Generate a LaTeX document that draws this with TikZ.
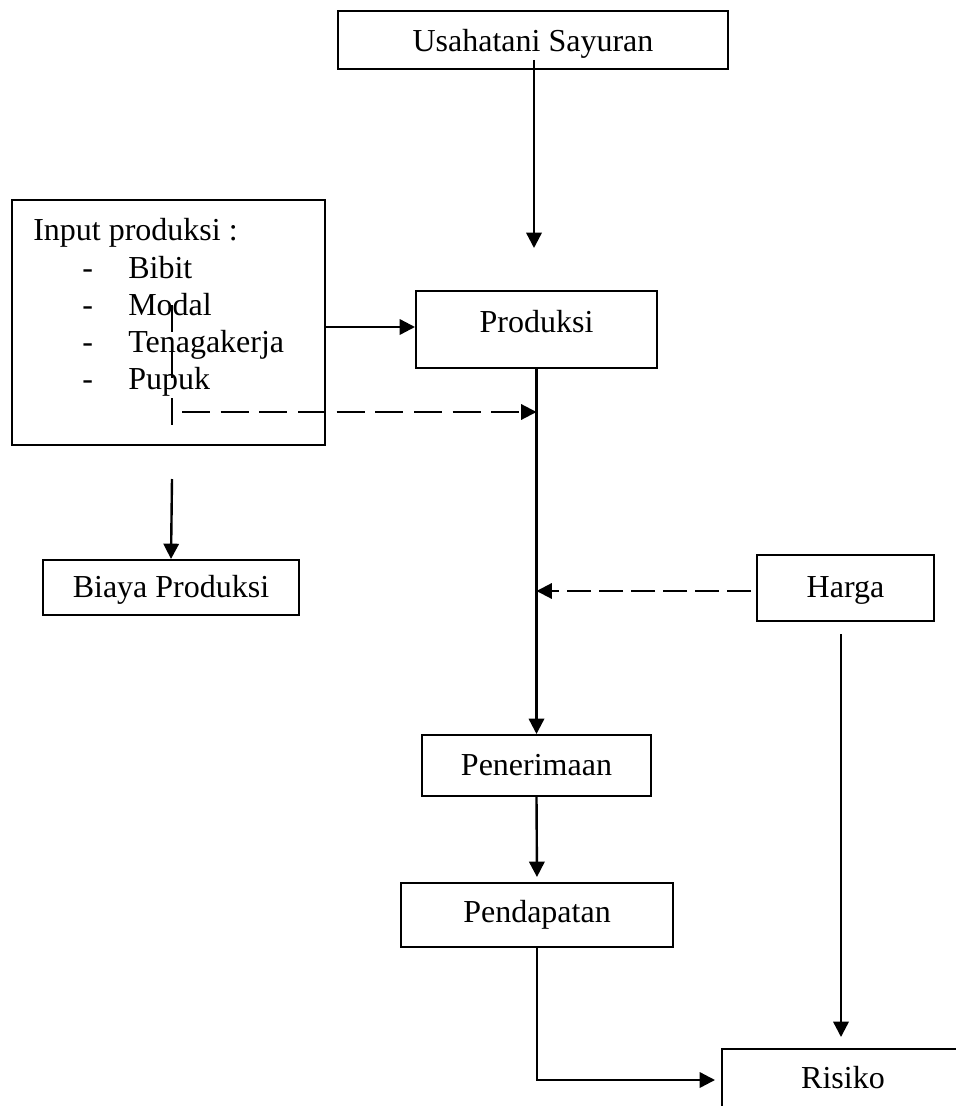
\documentclass[tikz,border=0pt]{standalone}
\usepackage{fontspec}
\setmainfont{Liberation Serif}
\usetikzlibrary{arrows.meta,calc}
\begin{document}
\begin{tikzpicture}[x=0.75pt,y=-0.75pt,
  every node/.style={font=\fontsize{24pt}{27.6pt}\selectfont},
  box/.style={draw=black,line width=1.5pt,rectangle,inner sep=0pt,text depth=0pt},
  txt/.style={inner sep=0pt},
  tip/.style={-{Triangle[length=11.5pt,width=11.5pt]}},
  arr/.style={line width=1.8pt,tip},
  dasharr/.style={line width=1.6pt,tip,dash pattern=on 21pt off 8pt},
  dashharga/.style={line width=1.6pt,tip,dash pattern=on 18pt off 6pt},
  dashv/.style={line width=1.6pt,dash pattern=on 20pt off 15pt}]
\useasboundingbox (0,0) rectangle (956,1106);

% boxes
\node[box,minimum width=292.5pt,minimum height=43.5pt,text height=18pt] (u) at (533,40) {Usahatani Sayuran};
\node[box,minimum width=234.75pt,minimum height=183.75pt] (inp) at (168.5,322.5) {};
\node[box,minimum width=180.75pt,minimum height=57.75pt,text height=3.75pt] (prod) at (536.5,329.5) {Produksi};
\node[box,minimum width=192pt,minimum height=41.25pt,text height=14.25pt] (biaya) at (171,587.5) {Biaya Produksi};
\node[box,minimum width=132.75pt,minimum height=49.5pt,text height=13.5pt] (harga) at (845.5,588) {Harga};
\node[box,minimum width=171.75pt,minimum height=45.75pt,text height=14.25pt] (pen) at (536.5,765.5) {Penerimaan};
\node[box,minimum width=204pt,minimum height=48pt,text height=10.5pt] (pend) at (537,915) {Pendapatan};
\node[box,minimum width=181.5pt,minimum height=58.5pt,text height=5pt,text depth=5pt] (ris) at (843,1088) {Risiko};

% text of the input box
\node[txt,anchor=base west] (inhead) at (33,240) {Input produksi :};
\foreach \t [count=\i] in {Bibit,Modal,Tenagakerja,Pupuk} {
  \pgfmathsetmacro\yy{278+(\i-1)*37.3}
  \node[txt,anchor=base west] (dash\i) at (82,\yy) {-};
  \node[txt,anchor=base west] (item\i) at (128,\yy) {\t};
}

% helper coordinates
\coordinate (uS) at (534,60);
\coordinate (uE) at (534,248);
\coordinate (r1) at (0,327);
\coordinate (dv1) at (172,305);
\coordinate (dv2) at (172,433);
\coordinate (dh) at (182,412);
\coordinate (b0) at (172,479);
\coordinate (hy) at (751,591);
\coordinate (h0) at (841,634);
\coordinate (h1) at (841,1037);
\coordinate (rIn) at (715,1080);

% connectors
\draw[arr] (uS) -- (uE);
\draw[arr] (inp.east |- r1) -- (prod.west |- r1);
\draw[arr] (prod.south) -- (pen.north);
\draw[dashv] (dv1) -- (dv2);
\draw[dasharr] (dh) -- (dh -| prod.south);
\draw[arr] (b0) -- (biaya.north);
\draw[dashharga] (hy) -- (hy -| prod.south);
\draw[arr] (h0) -- (h1);
\draw[arr,shorten >=3.75pt] (pen.south) -- (pend.north);
\draw[arr] (pend.south) |- (rIn);
\end{tikzpicture}
\end{document}
